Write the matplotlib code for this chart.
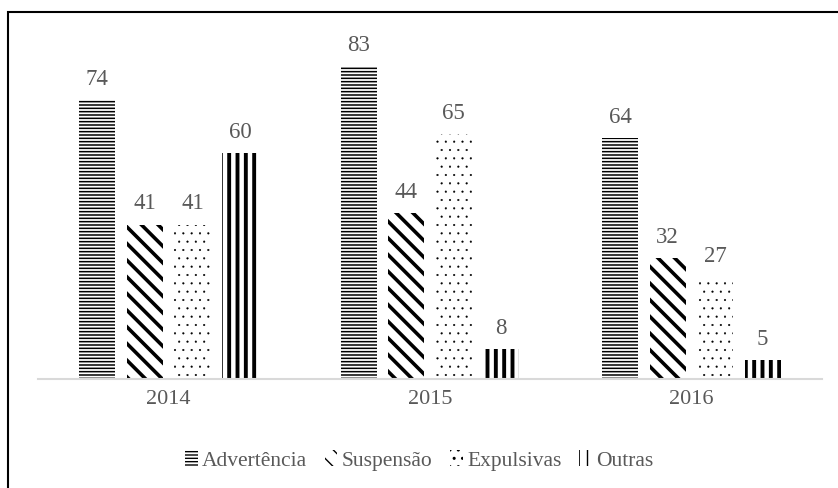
import matplotlib.pyplot as plt
import matplotlib.patches as mpatches
import numpy as np

# Tipos de medida disciplinar por ano
anos = ['2014', '2015', '2016']
series = ['Advertência', 'Suspensão', 'Expulsivas', 'Outras']
advertencia = [74, 83, 64]
suspensao = [41, 44, 32]
expulsivas = [41, 65, 27]
outras = [60, 8, 5]

valores = [advertencia, suspensao, expulsivas, outras]
hatches = ['-----', '\\\\', '..', '||']
hatch_lw = [1.1, 2.6, 0.3, 2.8]

plt.rcParams['font.family'] = ['Liberation Serif', 'DejaVu Serif']

fig = plt.figure(figsize=(8.38, 4.89), dpi=100)
ax = fig.add_axes([38/838, 1-380/489, 784/838, 339/489])

x = np.arange(len(anos))
largura = 0.138
passo = 0.182
for i, (nome, vals) in enumerate(zip(series, valores)):
    pos = x + (i - 1.5)*passo
    with plt.rc_context({'hatch.linewidth': hatch_lw[i]}):
        barras = ax.bar(pos, vals, largura, color='white', edgecolor='black',
                        linewidth=0, hatch=hatches[i], label=nome)
    for b in barras:
        try:
            b.set_hatch_linewidth(hatch_lw[i])
        except AttributeError:
            pass
    for p, v in zip(pos, vals):
        ax.text(p, v + 3, str(v), ha='center', va='bottom', fontsize=16.5, color='#595959')

ax.set_xlim(-0.5, 2.5)
ax.set_ylim(0, 90)
ax.set_xticks(x)
ax.set_xticklabels(anos, fontsize=16, color='#595959')
ax.tick_params(axis='x', length=0, pad=7)
ax.set_yticks([])
for s in ['top', 'right', 'left']:
    ax.spines[s].set_visible(False)
ax.spines['bottom'].set_color('#d9d9d9')
ax.spines['bottom'].set_linewidth(1.5)

leg = fig.legend(loc='center', bbox_to_anchor=(0.5, 1-461/489), ncol=4, frameon=False,
                 fontsize=15.5, handlelength=0.6, handleheight=0.8, handletextpad=0.2,
                 columnspacing=0.8)
for t in leg.get_texts():
    t.set_color('#595959')

# moldura da figura
fig.patches.append(mpatches.Rectangle((8/838, -0.1), 1.2, 1-13/489+0.1, transform=fig.transFigure,
                                      fill=False, edgecolor='black', linewidth=1.5))

fig.savefig('out.png', dpi=100)
